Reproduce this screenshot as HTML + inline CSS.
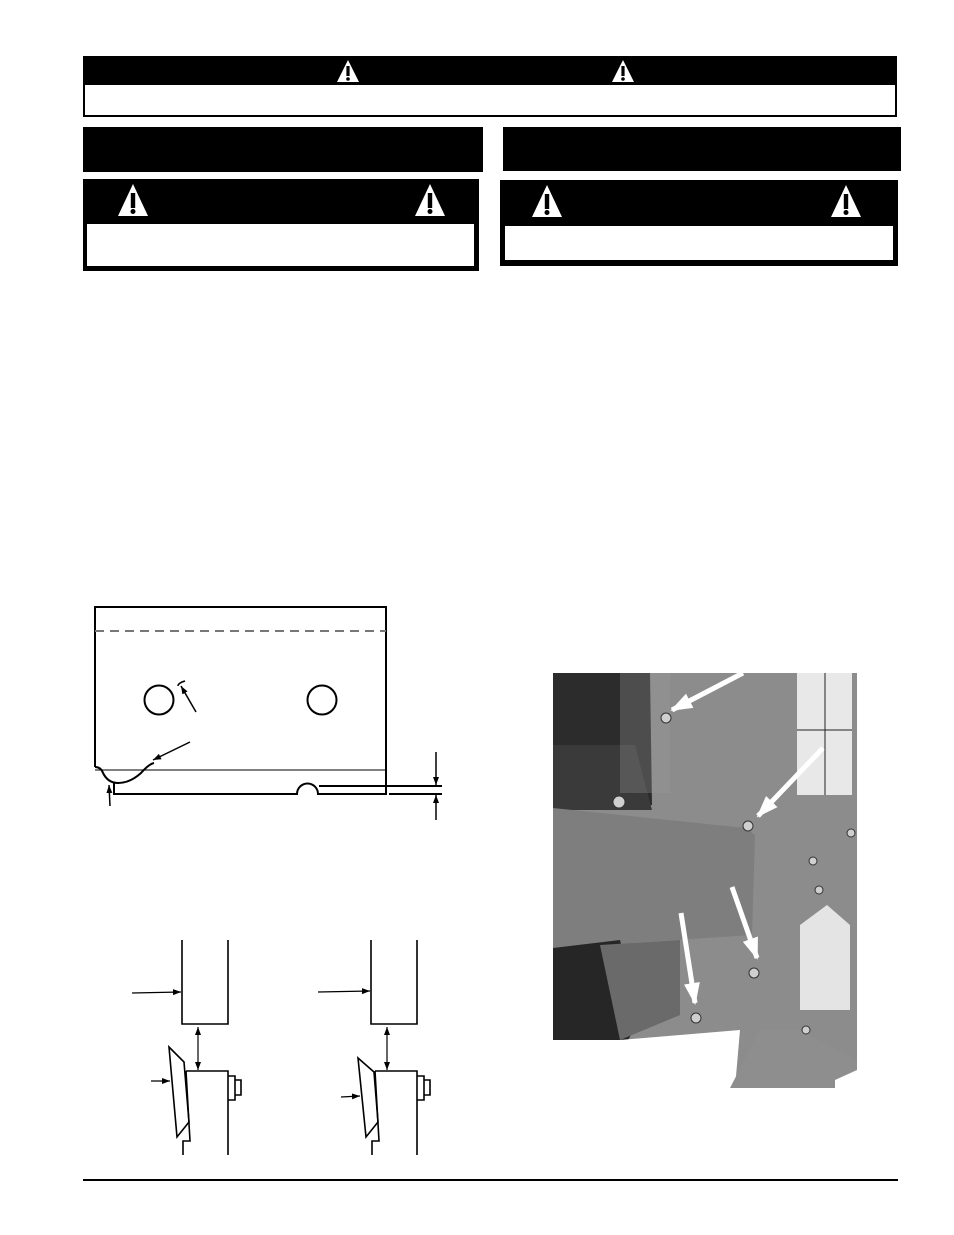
<!DOCTYPE html>
<html><head><meta charset="utf-8"><style>
html,body{margin:0;padding:0;background:#fff;}
body{width:954px;height:1235px;position:relative;overflow:hidden;font-family:"Liberation Sans",sans-serif;}
</style></head><body>
<svg width="954" height="1235" viewBox="0 0 954 1235" xmlns="http://www.w3.org/2000/svg" style="position:absolute;left:0;top:0">
<defs>
<g id="tri"><polygon points="0,-12 -11,10 11,10" fill="#fff"/><rect x="-1.6" y="-6" width="3.2" height="10" fill="#000"/><circle cx="0" cy="7" r="1.8" fill="#000"/></g>
<g id="trib"><polygon points="0,-17 -15,15 15,15" fill="#fff"/><rect x="-2.2" y="-8" width="4.4" height="15" fill="#000"/><circle cx="0" cy="10.5" r="2.5" fill="#000"/></g>
<marker id="ah" markerWidth="8" markerHeight="6" refX="8" refY="3" orient="auto" markerUnits="userSpaceOnUse"><polygon points="0,0 8,3 0,6" fill="#000"/></marker>
<marker id="wa" markerWidth="22" markerHeight="16" refX="20" refY="8" orient="auto" markerUnits="userSpaceOnUse"><polygon points="0,0 22,8 0,16" fill="#fff"/></marker>
</defs>
<!-- top warning -->
<rect x="84" y="57" width="812" height="59" fill="#fff" stroke="#000" stroke-width="2"/>
<rect x="83" y="56" width="814" height="29" fill="#000"/>
<use href="#tri" x="348" y="72"/><use href="#tri" x="623" y="72"/>
<!-- section bars -->
<rect x="83" y="127" width="400" height="45" fill="#000"/>
<rect x="503" y="127" width="398" height="44" fill="#000"/>
<!-- left warning -->
<rect x="83" y="179" width="396" height="92" fill="#000"/>
<rect x="87" y="224" width="387" height="42" fill="#fff"/>
<use href="#trib" x="133" y="201"/><use href="#trib" x="430" y="201"/>
<!-- right warning -->
<rect x="500" y="180" width="398" height="86" fill="#000"/>
<rect x="505" y="226" width="388" height="34" fill="#fff"/>
<use href="#trib" x="547" y="202"/><use href="#trib" x="846" y="202"/>

<!-- blade diagram -->
<g fill="none" stroke="#000" stroke-width="2">
<path d="M95,767 L95,607 L386,607 L386,794 L318,794 A10,10 0 0 0 297,794 L114,794 L114,783"/>
<path d="M95,767 Q101,767 103,773 Q108,783 118,783 Q130,783 141,773 Q149,764 154,763"/>
<circle cx="159" cy="700" r="14.5"/><circle cx="322" cy="700" r="14.5"/>
<line x1="319" y1="786" x2="442" y2="786"/>
<line x1="389" y1="794" x2="442" y2="794"/>
</g>
<line x1="95" y1="631" x2="386" y2="631" stroke="#777" stroke-width="2" stroke-dasharray="9,6"/>
<line x1="95" y1="770" x2="386" y2="770" stroke="#000" stroke-width="1"/>
<g stroke="#000" stroke-width="1.5" fill="none" marker-end="url(#ah)">
<line x1="196" y1="712" x2="181" y2="686"/>
<line x1="190" y1="742" x2="153" y2="760"/>
<line x1="110" y1="806" x2="109" y2="785"/>
<line x1="436" y1="752" x2="436" y2="785"/>
<line x1="436" y1="820" x2="436" y2="795"/>
</g>
<path d="M178,686 Q178,683 185,681" fill="none" stroke="#000" stroke-width="1.5"/>

<!-- bottom diagrams -->
<g fill="none" stroke="#000" stroke-width="1.6">
<path d="M182,940 L182,1024 L228,1024 L228,940"/>
<path d="M186,1071 L228,1071 L228,1155 M186,1071 L190,1141 L183,1141 L183,1155"/>
<path d="M228,1076 L235,1076 L235,1100 L228,1100 M235,1080 L241,1080 L241,1095 L235,1095"/>
<polygon points="169,1047 184,1062 189,1122 177,1137"/>
<path d="M371,940 L371,1024 L417,1024 L417,940"/>
<path d="M375,1071 L417,1071 L417,1155 M375,1071 L379,1141 L372,1141 L372,1155"/>
<path d="M417,1076 L424,1076 L424,1100 L417,1100 M424,1080 L430,1080 L430,1095 L424,1095"/>
<polygon points="358,1058 374,1072 378,1122 366,1137"/>
</g>
<g stroke="#000" stroke-width="1.2" marker-end="url(#ah)">
<line x1="132" y1="993" x2="181" y2="992"/>
<line x1="151" y1="1081" x2="170" y2="1081"/>
<line x1="318" y1="992" x2="370" y2="991"/>
<line x1="341" y1="1097" x2="360" y2="1096"/>
<line x1="198" y1="1050" x2="198" y2="1070"/>
<line x1="198" y1="1050" x2="198" y2="1027"/>
<line x1="387" y1="1050" x2="387" y2="1070"/>
<line x1="387" y1="1050" x2="387" y2="1027"/>
</g>

<!-- photo -->
<g>
<rect x="553" y="673" width="304" height="415" fill="#8c8c8c"/>
<polygon points="553,673 650,673 652,805 553,805" fill="#2c2c2c"/>
<polygon points="553,745 635,745 652,810 553,810" fill="#3a3a3a"/>
<rect x="620" y="673" width="50" height="120" fill="#9a9a9a" opacity=".3"/>
<polygon points="553,808 745,828 755,835 752,935 553,948" fill="#7e7e7e"/>
<polygon points="553,948 620,940 640,1020 625,1045 553,1040" fill="#262626"/>
<polygon points="600,945 680,940 680,1015 620,1040" fill="#6a6a6a"/>
<rect x="797" y="673" width="55" height="122" fill="#e8e8e8"/>
<line x1="825" y1="673" x2="825" y2="795" stroke="#222"/>
<line x1="797" y1="730" x2="852" y2="730" stroke="#222"/>
<polygon points="800,925 827,905 850,925 850,1010 800,1010" fill="#e4e4e4"/>
<polygon points="553,1040 620,1040 740,1030 735,1088 553,1088" fill="#fff"/>
<polygon points="730,1088 760,1030 800,1030 857,1060 857,1088" fill="#8e8e8e"/>
<polygon points="835,1080 857,1070 857,1088 835,1088" fill="#fff"/>
<g fill="#cfcfcf" stroke="#333" stroke-width="1">
<circle cx="666" cy="718" r="5"/><circle cx="748" cy="826" r="5"/><circle cx="754" cy="973" r="5"/><circle cx="696" cy="1018" r="5"/>
<circle cx="813" cy="861" r="4"/><circle cx="819" cy="890" r="4"/><circle cx="851" cy="833" r="4"/><circle cx="619" cy="802" r="6"/><circle cx="806" cy="1030" r="4"/>
</g>
<g stroke="#fff" stroke-width="5" marker-end="url(#wa)">
<line x1="743" y1="673" x2="672" y2="710"/>
<line x1="823" y1="748" x2="758" y2="816"/>
<line x1="732" y1="887" x2="757" y2="958"/>
<line x1="681" y1="913" x2="695" y2="1003"/>
</g>
</g>

<!-- footer -->
<line x1="83" y1="1180" x2="898" y2="1180" stroke="#000" stroke-width="2"/>
</svg>
</body></html>
